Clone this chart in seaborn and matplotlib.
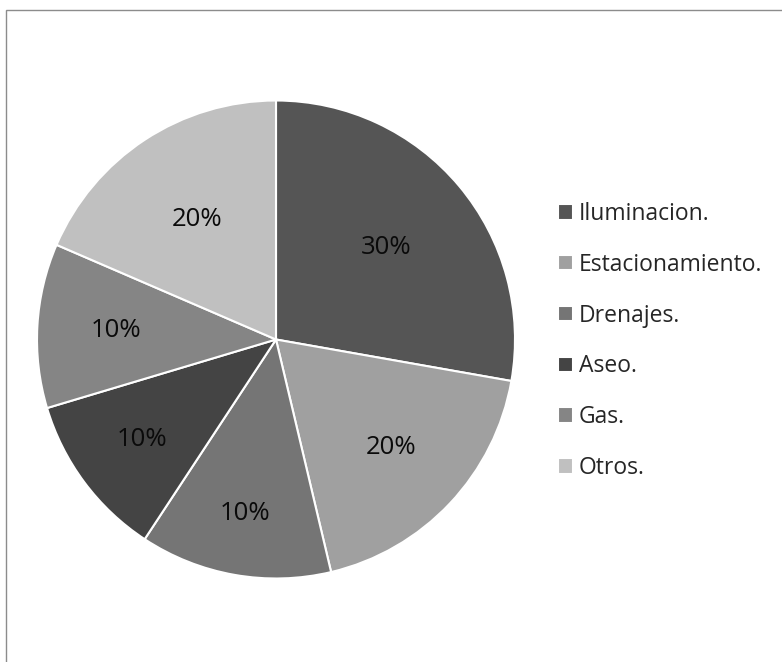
import matplotlib
matplotlib.use("Agg")
import numpy as np
import matplotlib.pyplot as plt
import matplotlib.patches as mpatches
import seaborn as sns

categories = ["Iluminacion.", "Estacionamiento.", "Drenajes.", "Aseo.", "Gas.", "Otros."]
values = [15, 10, 7, 6, 6, 10]
pct_labels = ["30%", "20%", "10%", "10%", "10%", "20%"]
colors = ["#555555", "#a0a0a0", "#757575", "#444444", "#858585", "#c0c0c0"]

sns.set_theme(style="white")
plt.rcParams['font.family'] = ['Open Sans', 'DejaVu Sans']

W, H = 782, 662
fig = plt.figure(figsize=(W / 100, H / 100), dpi=100)

# pie centre ~ (276, 339) px, radius ~239 px
cx, cy, r = 276, 339.5, 239
ax = fig.add_axes([(cx - r) / W, (H - cy - r) / H, 2 * r / W, 2 * r / H])

label_iter = iter(pct_labels)
wedges, texts, autotexts = ax.pie(
    values,
    colors=colors,
    startangle=90,
    counterclock=False,
    autopct=lambda p: next(label_iter),
    pctdistance=0.64,
    wedgeprops=dict(edgecolor="white", linewidth=1.5),
    textprops=dict(fontsize=18.5, color="#0a0a0a"),
)
# Excel-style "best fit": small slices have their labels pushed outward
label_dist = [0.60, 0.66, 0.74, 0.70, 0.67, 0.60]
for w, t, d in zip(wedges, autotexts, label_dist):
    ang = np.deg2rad((w.theta1 + w.theta2) / 2)
    t.set_position((d * np.cos(ang), d * np.sin(ang)))

ax.set_xlim(-1, 1)
ax.set_ylim(-1, 1)
ax.set_aspect("equal")

fig.legend(
    wedges,
    categories,
    loc="center left",
    bbox_to_anchor=(558 / W, 1 - 341 / H),
    frameon=False,
    fontsize=16.5,
    handlelength=0.66,
    handleheight=0.66,
    handletextpad=0.26,
    labelspacing=1.17,
    borderpad=0,
    borderaxespad=0,
)

# outer chart border (only top and left visible)
fig.add_artist(mpatches.Rectangle(
    (5.5 / W, -0.1), 1.2, (H - 9.5) / H + 0.1,
    transform=fig.transFigure, fill=False, edgecolor="#8c8c8c", linewidth=1.0,
))

fig.savefig("out.png", dpi=100)
